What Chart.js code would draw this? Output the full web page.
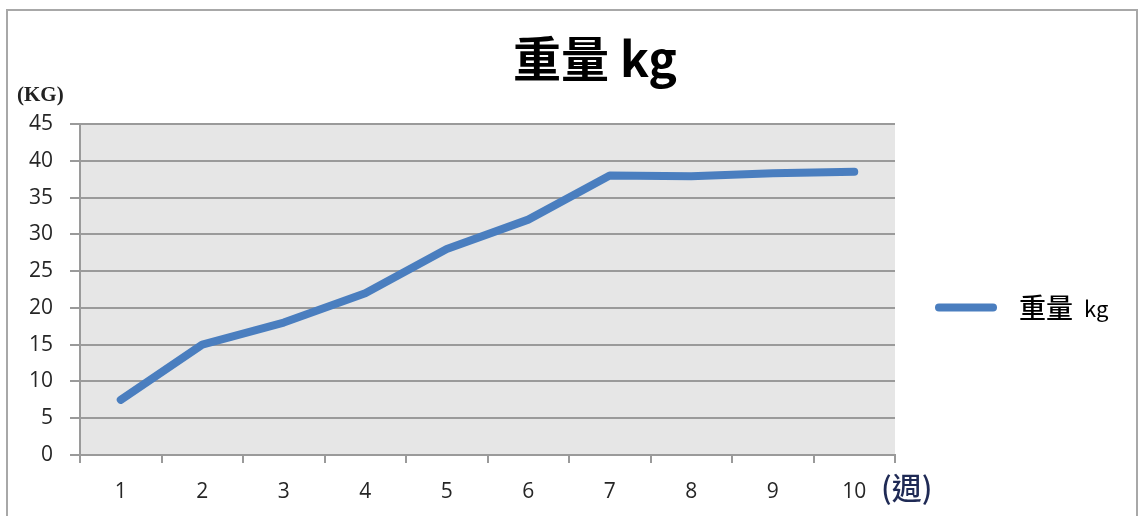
<!DOCTYPE html>
<html>
<head>
<meta charset="utf-8">
<script src="https://cdn.jsdelivr.net/npm/chart.js@4"></script>
<style>
  html, body { margin: 0; padding: 0; background: #fff; }
  #wrap { width: 1141px; height: 516px; position: relative; }
</style>
</head>
<body>
<div id="wrap"><canvas id="weightChart"></canvas></div>
<script>
const weeks = ['1', '2', '3', '4', '5', '6', '7', '8', '9', '10'];
const weights = [7.5, 15, 18, 22, 28, 32, 38, 37.9, 38.3, 38.5];
const seriesName = '重量 kg';
const yUnit = '(KG)';
const xUnit = '(週)';

const lineColor = '#4a7ebf';
const gridColor = '#9a9a9a';
const cjk = '"Noto Sans CJK TC", "Noto Sans CJK SC", sans-serif';
const num = '"Open Sans", "Liberation Sans", sans-serif';

// frame, plot background, title, units and legend
const decor = {
    id: 'decor',
    beforeDraw(chart) {
        const ctx = chart.ctx;
        const a = chart.chartArea;
        ctx.save();
        ctx.strokeStyle = '#a8a8a8';
        ctx.lineWidth = 2;
        ctx.beginPath();
        ctx.moveTo(7, 520);
        ctx.lineTo(7, 10);
        ctx.lineTo(1137, 10);
        ctx.lineTo(1137, 520);
        ctx.stroke();
        ctx.fillStyle = '#e6e6e6';
        ctx.fillRect(a.left, a.top, a.right - a.left, a.bottom - a.top);
        ctx.restore();
    },
    afterDraw(chart) {
        const ctx = chart.ctx;
        const a = chart.chartArea;
        ctx.save();
        // title
        ctx.fillStyle = '#000';
        ctx.textBaseline = 'middle';
        ctx.textAlign = 'center';
        ctx.font = 'bold 48px ' + cjk;
        ctx.fillText('重量 kg', 595, 59);

        // y unit
        ctx.textAlign = 'left';
        ctx.font = 'bold 21px "Liberation Serif", serif';
        ctx.fillStyle = '#222';
        ctx.fillText(yUnit, 17, 96);

        // x unit
        ctx.font = '500 30px ' + cjk;
        ctx.fillStyle = '#1f2a55';
        ctx.fillText(xUnit, 881, 488);

        // legend
        const ly = (a.top + a.bottom) / 2 + 18;
        ctx.strokeStyle = lineColor;
        ctx.lineWidth = 8;
        ctx.lineCap = 'round';
        ctx.beginPath();
        ctx.moveTo(939, ly);
        ctx.lineTo(993, ly);
        ctx.stroke();
        ctx.fillStyle = '#000';
        ctx.font = '500 27px ' + cjk;
        ctx.fillText('重量', 1019, ly);
        ctx.font = '22px ' + cjk;
        ctx.fillText('kg', 1084, ly + 1);
        ctx.restore();
    }
};

new Chart(document.getElementById('weightChart'), {
    type: 'line',
    data: {
        labels: weeks,
        datasets: [{
            label: seriesName,
            data: weights,
            borderColor: lineColor,
            borderWidth: 8,
            borderCapStyle: 'round',
            borderJoinStyle: 'round',
            pointRadius: 0,
            tension: 0,
            fill: false
        }]
    },
    options: {
        responsive: true,
        maintainAspectRatio: false,
        animation: false,
        layout: { padding: { top: 124, right: 246, left: 0, bottom: 0 } },
        plugins: {
            legend: { display: false },
            title: { display: false },
            tooltip: { enabled: false }
        },
        scales: {
            x: {
                offset: true,
                grid: {
                    offset: true,
                    drawOnChartArea: false,
                    drawTicks: true,
                    tickLength: 8,
                    color: gridColor,
                    lineWidth: 2
                },
                border: { display: true, color: gridColor, width: 2 },
                ticks: {
                    padding: 16,
                    color: '#262626',
                    font: { family: num, size: 21, weight: '500' },
                    maxRotation: 0
                },
                afterFit(scale) { scale.height = 61; }
            },
            y: {
                min: 0,
                max: 45,
                ticks: {
                    stepSize: 5,
                    padding: 17,
                    color: '#262626',
                    font: { family: num, size: 21, weight: '500' }
                },
                grid: {
                    color: gridColor,
                    lineWidth: 2,
                    tickLength: 10
                },
                border: { display: true, color: gridColor, width: 2 },
                afterFit(scale) { scale.width = 80; }
            }
        }
    },
    plugins: [decor]
});
</script>
</body>
</html>
